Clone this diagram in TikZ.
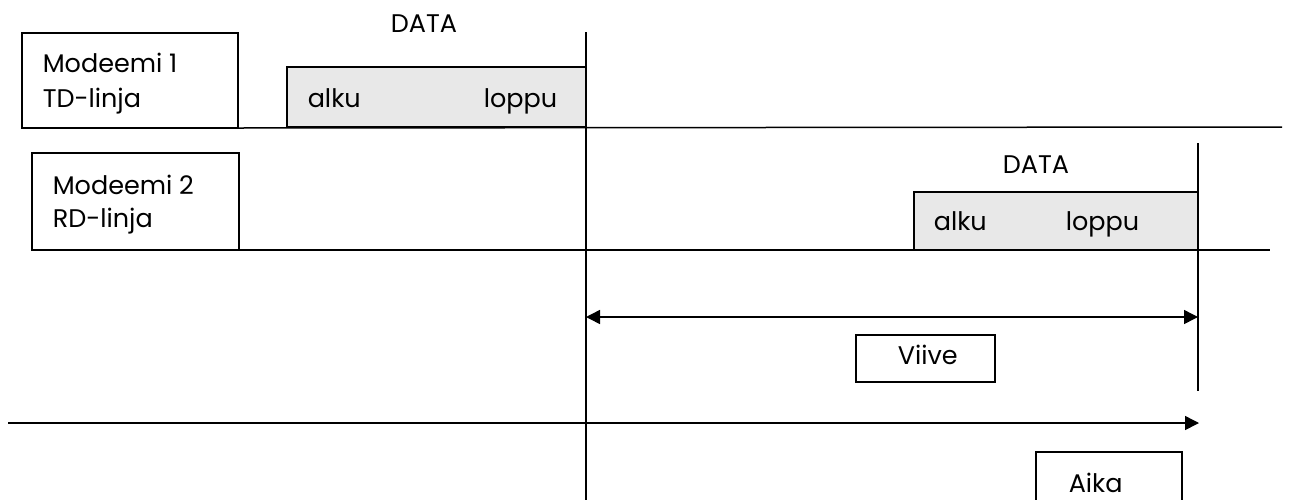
\documentclass[tikz,border=0pt]{standalone}
\usepackage{fontspec}
\setmainfont{Poppins}
\usetikzlibrary{arrows.meta}
\begin{document}
\begin{tikzpicture}[x=1pt,y=-1pt,line width=1.5pt,
  font=\fontsize{25.5}{30}\selectfont,
  frame/.style={draw,rectangle,inner sep=0pt,outer sep=0pt,anchor=north west},
  databox/.style={frame,fill=datagray},
  lbl/.style={inner sep=0pt,anchor=base west},
  clbl/.style={inner sep=0pt,anchor=base},
  tip/.style={-{Triangle[length=14pt,width=14pt]}},
  dtip/.style={{Triangle[length=14pt,width=14pt]}-{Triangle[length=14pt,width=14pt]}}]
\definecolor{datagray}{HTML}{E8E8E8}
\clip (0,0) rectangle (1290,499);
\fill[white] (0,0) rectangle (1290,499);

% modem 1, transmit line
\node[frame,minimum width=216pt,minimum height=95pt] (m1) at (22,33) {};
\node[lbl] (m1a) at (42,72) {Modeemi 1};
\node[lbl] (m1b) at (42,107) {TD-linja};
\node[databox,minimum width=299pt,minimum height=60pt] (d1) at (287,67) {};
\node[lbl] (d1a) at (307,107) {alku};
\node[lbl] (d1b) at (483,107) {loppu};
\node[clbl] (d1t) at (424,32) {DATA};
\coordinate (tdend) at (1282,127);
\draw (m1.south east) -- (tdend);

% modem 2, receive line
\node[frame,minimum width=207pt,minimum height=97pt] (m2) at (32,153) {};
\node[lbl] (m2a) at (52,194) {Modeemi 2};
\node[lbl] (m2b) at (52,227) {RD-linja};
\node[databox,minimum width=284pt,minimum height=58pt] (d2) at (914,192) {};
\node[lbl] (d2a) at (933,230) {alku};
\node[lbl] (d2b) at (1065,230) {loppu};
\node[clbl] (d2t) at (1036,173) {DATA};
\coordinate (rdstart) at (194,250);
\coordinate (rdend) at (1270,250);
\draw (rdstart) -- (rdend);

% time markers
\coordinate (v1top) at (586,32);
\coordinate (v1bot) at (586,505);
\draw (v1top) -- (v1bot);
\coordinate (v2top) at (1198,143);
\coordinate (v2bot) at (1198,391);
\draw (v2top) -- (v2bot);

% delay
\coordinate (dl) at (586,317);
\coordinate (dr) at (1198,317);
\draw[dtip] (dl) -- (dr);
\node[frame,minimum width=139pt,minimum height=47pt] (viive) at (856,335) {};
\node[lbl] (viivet) at (897,364) {Viive};

% time axis
\coordinate (t0) at (8,423);
\coordinate (t1) at (1199,423);
\draw[tip] (t0) -- (t1);
\node[frame,minimum width=146pt,minimum height=70pt] (aika) at (1036,452) {};
\node[lbl] (aikat) at (1068,492) {Aika};
\end{tikzpicture}
\end{document}
